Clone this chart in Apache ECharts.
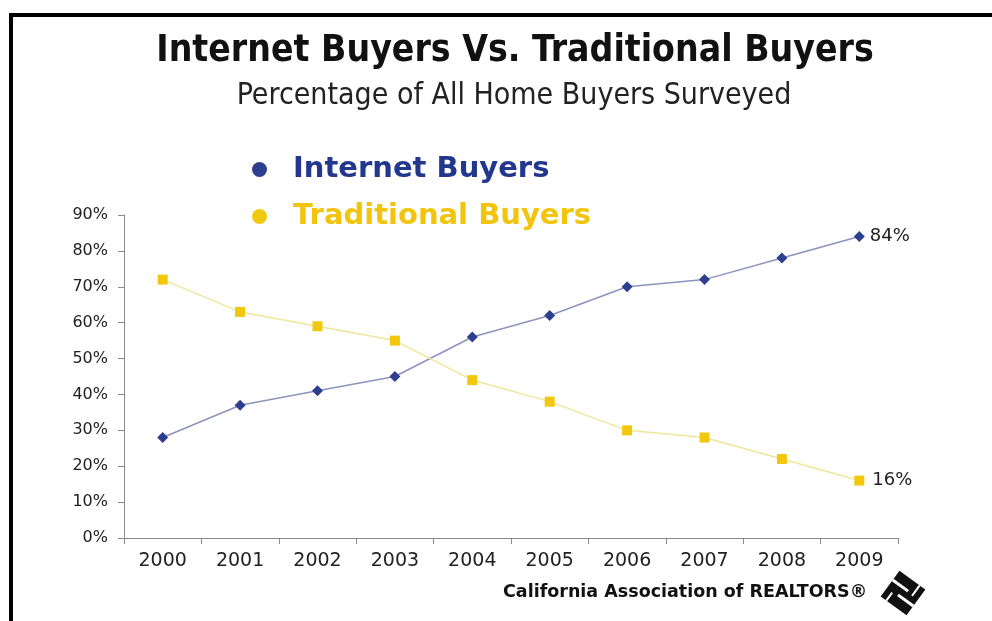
<!DOCTYPE html>
<html>
<head>
<meta charset="utf-8">
<script src="https://cdn.jsdelivr.net/npm/echarts@6/dist/echarts.min.js"></script>
<style>
html,body{margin:0;padding:0;background:#fff;}
#c{width:992px;height:621px;}
</style>
</head>
<body>
<div id="c"></div>
<script>
const years = ['2000','2001','2002','2003','2004','2005','2006','2007','2008','2009'];
const internetBuyers = [28, 37, 41, 45, 56, 62, 70, 72, 78, 84];
const traditionalBuyers = [72, 63, 59, 55, 44, 38, 30, 28, 22, 16];
const seriesNames = ['Internet Buyers', 'Traditional Buyers'];

const chart = echarts.init(document.getElementById('c'));
function endLabel(p){ return p.dataIndex === years.length - 1 ? p.value + '%' : ''; }

chart.setOption({
  animation: false,
  backgroundColor: '#ffffff',
  title: [{
    text: 'Internet Buyers Vs. Traditional Buyers',
    left: 510, top: 28, textAlign: 'center',
    textStyle: { fontFamily: 'DejaVu Sans Condensed', fontWeight: 'bold', fontSize: 37, color: '#111' }
  },{
    text: 'Percentage of All Home Buyers Surveyed',
    left: 509, top: 76, textAlign: 'center',
    textStyle: { fontFamily: 'DejaVu Sans Condensed', fontWeight: 'normal', fontSize: 30, color: '#222' }
  }],
  legend: {
    orient: 'vertical', left: 247, top: 150, itemGap: 18,
    icon: 'circle', itemWidth: 15, itemHeight: 15,
    selectedMode: false,
    textStyle: { fontFamily: 'DejaVu Sans', fontWeight: 'bold', fontSize: 29, padding: [0,0,0,21] },
    data: [
      { name: seriesNames[0], textStyle: { color: '#23378f' } },
      { name: seriesNames[1], textStyle: { color: '#f2c40c' } }
    ]
  },
  grid: { left: 124, right: 94, top: 215, bottom: 83 },
  xAxis: {
    type: 'category', data: years, boundaryGap: true,
    axisLine: { lineStyle: { color: '#8a8a8a', width: 1 } },
    axisTick: { show: true, length: 6, lineStyle: { color: '#8a8a8a' } },
    axisLabel: { margin: 14, fontFamily: 'DejaVu Sans', fontSize: 19, color: '#222' }
  },
  yAxis: {
    type: 'value', min: 0, max: 90, interval: 10,
    axisLine: { show: true, lineStyle: { color: '#8a8a8a', width: 1 } },
    axisTick: { show: true, length: 6, lineStyle: { color: '#8a8a8a' } },
    splitLine: { show: false },
    axisLabel: { margin: 16, formatter: '{value}%', fontFamily: 'DejaVu Sans', fontSize: 16, color: '#222' }
  },
  series: [{
    name: seriesNames[0], type: 'line', data: internetBuyers,
    symbol: 'diamond', symbolSize: 11,
    itemStyle: { color: '#2f3f8f' },
    lineStyle: { color: '#8c93bf', width: 1.5 },
    label: { show: true, position: 'right', distance: 5, formatter: endLabel, fontFamily: 'DejaVu Sans', fontSize: 18, color: '#222' }
  },{
    name: seriesNames[1], type: 'line', data: traditionalBuyers,
    symbol: 'rect', symbolSize: 10,
    itemStyle: { color: '#f2c80f' },
    lineStyle: { color: '#efe69a', width: 1.5 },
    label: { show: true, position: 'right', distance: 8, formatter: endLabel, fontFamily: 'DejaVu Sans', fontSize: 18, color: '#222' }
  }],
  graphic: [
    { type: 'polyline', shape: { points: [[11, 621], [11, 15], [992, 15]] }, style: { stroke: '#000', lineWidth: 4, fill: null } },
    { type: 'text', left: 503, top: 583, style: { text: 'California Association of REALTORS\u00ae', fontFamily: 'DejaVu Sans', fontWeight: 'bold', fontSize: 17.5, fill: '#111' } },
    { type: 'group', x: 903, y: 593, rotation: -Math.PI / 5, children: [
      { type: 'rect', shape: { x: -16, y: -16, width: 32, height: 32 }, style: { fill: '#111' } },
      { type: 'rect', shape: { x: -16, y: -6, width: 19, height: 3 }, style: { fill: '#fff' } },
      { type: 'rect', shape: { x: -3, y: 3, width: 19, height: 3 }, style: { fill: '#fff' } },
      { type: 'rect', shape: { x: 8, y: -16, width: 2, height: 13 }, style: { fill: '#fff' } },
      { type: 'rect', shape: { x: -10, y: 6, width: 2, height: 10 }, style: { fill: '#fff' } }
    ]}
  ]
});
</script>
</body>
</html>
